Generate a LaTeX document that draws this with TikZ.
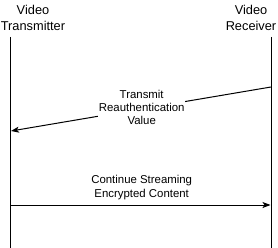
\documentclass[tikz,border=0pt]{standalone}
\usepackage{fontspec}
\setmainfont{Liberation Sans}
\usetikzlibrary{arrows.meta}
\begin{document}
\begin{tikzpicture}[x=1pt,y=-1pt,
  lifeline/.style={line width=1pt},
  msg/.style={line width=1pt,-{Stealth[length=8pt,width=6pt,inset=2pt]}},
  head/.style={align=center,inner sep=0pt,font=\fontsize{12.8}{15.7}\selectfont},
  lbl/.style={align=center,inner sep=1pt,font=\fontsize{11.4}{13.4}\selectfont}]
\useasboundingbox (0,0) rectangle (278,248);
\node[head] (tx) at (33,18.2) {Video\\Transmitter};
\node[head] (rx) at (251,18.2) {Video\\Receiver};
\coordinate (txtop) at (10,37);
\coordinate (txbot) at (10,248);
\coordinate (rxtop) at (271,37);
\coordinate (rxbot) at (271,248);
\draw[lifeline] (txtop) -- (txbot);
\draw[lifeline] (rxtop) -- (rxbot);
\coordinate (m1s) at (271,87);
\coordinate (m1e) at (11,131);
\draw[msg] (m1s) -- (m1e);
\node[lbl,fill=white] (l1) at (141.7,107.5) {Transmit\\Reauthentication\\Value};
\coordinate (m2s) at (10,205);
\coordinate (m2e) at (270.5,205);
\draw[msg] (m2s) -- (m2e);
\node[lbl] (l2) at (141.7,187.5) {Continue Streaming\\Encrypted Content};
\end{tikzpicture}
\end{document}
